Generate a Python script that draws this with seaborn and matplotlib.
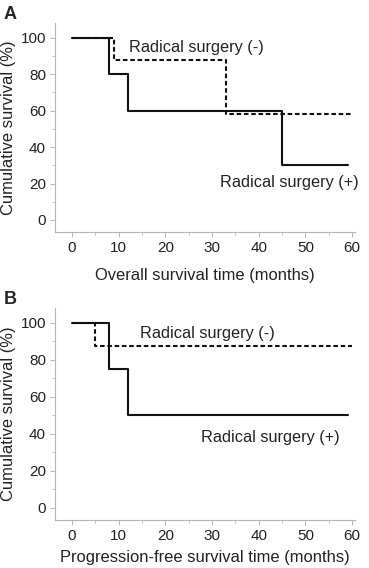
import numpy as np
import pandas as pd
import seaborn as sns
from matplotlib import pyplot as plt
from matplotlib.ticker import MultipleLocator

# Kaplan-Meier step points (time in months, survival in %)
os_pos_time = [0, 8, 12, 45, 59]
os_pos_surv = [100, 80, 60, 30, 30]
os_neg_time = [0, 9, 33, 60]
os_neg_surv = [100, 87.5, 58.3, 58.3]

pfs_pos_time = [0, 8, 12, 59]
pfs_pos_surv = [100, 75, 50, 50]
pfs_neg_time = [0, 5, 60]
pfs_neg_surv = [100, 87.5, 87.5]

GROUPS = ["Radical surgery (+)", "Radical surgery (-)"]
XLABELS = ["Overall survival time (months)", "Progression-free survival time (months)"]
PANELS = ["A", "B"]


def make_frame(pos_t, pos_s, neg_t, neg_s):
    pos = pd.DataFrame({"time": pos_t, "surv": pos_s, "group": GROUPS[0]})
    neg = pd.DataFrame({"time": neg_t, "surv": neg_s, "group": GROUPS[1]})
    return pd.concat([neg, pos], ignore_index=True)


frames = [
    make_frame(os_pos_time, os_pos_surv, os_neg_time, os_neg_surv),
    make_frame(pfs_pos_time, pfs_pos_surv, pfs_neg_time, pfs_neg_surv),
]

# label positions (data coords) for the two curves in each panel
label_pos = [
    {GROUPS[1]: (12.2, 94.5), GROUPS[0]: (31.7, 20.3)},
    {GROUPS[1]: (14.6, 94.0), GROUPS[0]: (27.6, 38.0)},
]

sns.set_style("ticks")
plt.rcParams["font.family"] = ["Liberation Sans", "DejaVu Sans"]

fig = plt.figure(figsize=(3.69, 5.68), dpi=100)
axes = [
    fig.add_axes([0.149, 0.5915, 0.813, 0.368]),
    fig.add_axes([0.149, 0.0845, 0.813, 0.3732]),
]
xlabel_pads = [9, 5]

spine_col = "#b5b5b5"
for i, ax in enumerate(axes):
    data = frames[i]
    sns.lineplot(
        data=data, x="time", y="surv", hue="group", style="group",
        hue_order=GROUPS, style_order=GROUPS,
        palette=["#111111", "#111111"],
        dashes={GROUPS[0]: "", GROUPS[1]: (2.2, 1.3)},
        drawstyle="steps-post", estimator=None, sort=False,
        linewidth=1.5, legend=False, ax=ax,
    )
    ax.set_xlim(-3.6, 60.6)
    ax.set_ylim(-6.6, 108)
    ax.xaxis.set_major_locator(MultipleLocator(10))
    ax.xaxis.set_minor_locator(MultipleLocator(5))
    ax.yaxis.set_major_locator(MultipleLocator(20))
    ax.yaxis.set_minor_locator(MultipleLocator(10))
    for side in ["top", "right"]:
        ax.spines[side].set_visible(False)
    for side in ["left", "bottom"]:
        ax.spines[side].set_color(spine_col)
        ax.spines[side].set_linewidth(0.8)
    ax.tick_params(which="major", length=3.5, width=0.7, color=spine_col,
                   labelsize=11, labelcolor="#222222", pad=3)
    ax.tick_params(which="minor", length=2, width=0.6, color=spine_col)
    ax.set_xlabel(XLABELS[i], fontsize=11.9, color="#222222", labelpad=xlabel_pads[i])
    ax.set_ylabel("Cumulative survival (%)", fontsize=11.9, color="#222222", labelpad=3)
    for g, (x, y) in label_pos[i].items():
        ax.text(x, y, g, fontsize=11.7, color="#222222", ha="left", va="center")
    ax.text(-0.17, 1.04, PANELS[i], transform=ax.transAxes, fontsize=13,
            fontweight="bold", ha="left", va="center")

fig.savefig("out.png", dpi=100)
